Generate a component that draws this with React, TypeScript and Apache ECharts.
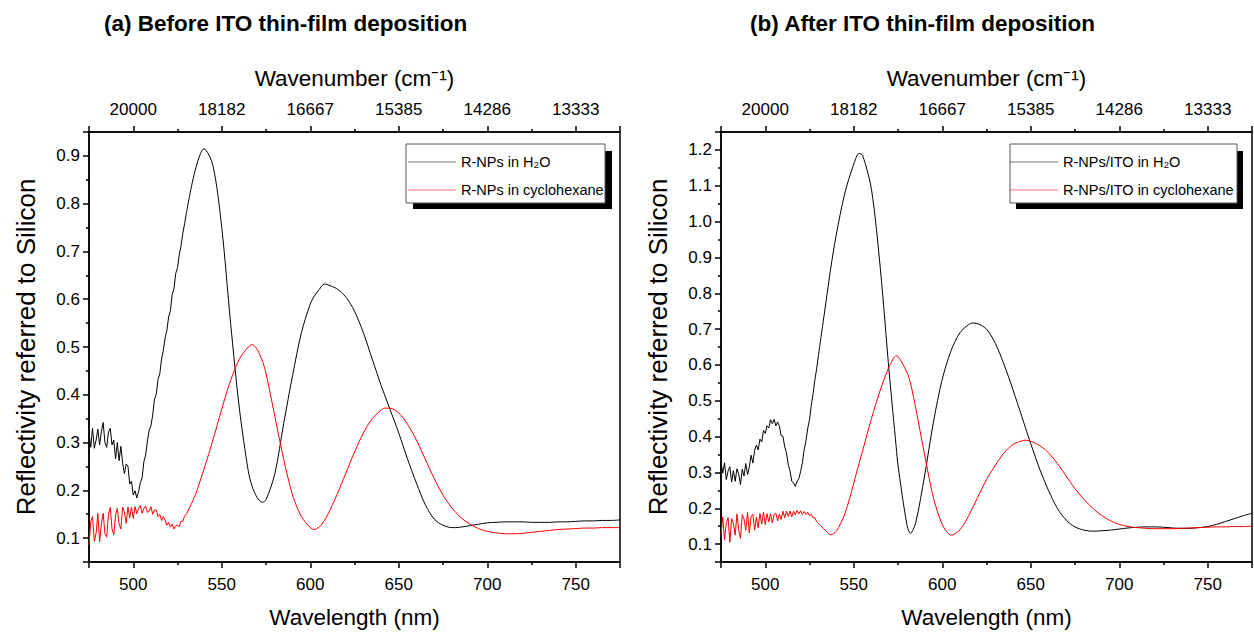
import React, { useEffect, useRef } from 'react';
import * as echarts from 'echarts';

const FONT = '"Liberation Sans", Arial, Helvetica, sans-serif';

const titles = ['(a) Before ITO thin-film deposition', '(b) After ITO thin-film deposition'];
const legendNamesA = ['R-NPs in H₂O', 'R-NPs in cyclohexane'];
const legendNamesB = ['R-NPs/ITO in H₂O', 'R-NPs/ITO in cyclohexane'];
const xAxisName = 'Wavelength (nm)';
const topAxisName = 'Wavenumber (cm⁻¹)';
const yAxisName = 'Reflectivity referred to Silicon';

const wlMin = 475;
const wlMax = 775;
const yRangeA = [0.05, 0.95];
const yRangeB = [0.05, 1.25];

// sampled wavelengths (nm): dense in the noisy short-wavelength part (first 56 points)
const wlNoisy = [475, 476, 477, 478, 479, 480, 481, 482, 483, 484, 485, 486, 487, 488, 489, 490, 491, 492, 493, 494, 495, 496, 497, 498, 499, 500,
  501, 502, 503, 504, 505, 506, 507, 508, 509, 510, 511, 512, 513, 514, 515, 516, 517, 518, 519, 520,
  521, 522, 523, 524, 525, 526, 527, 528, 529, 530];
const wlTailA = [535, 540, 545, 550, 555, 560, 565, 567, 570, 573, 575, 580, 585, 590, 595, 600, 602, 605, 608, 610,
  615, 620, 625, 630, 635, 640, 642, 645, 650, 655, 660, 665, 670, 675, 680, 682, 685, 690, 695,
  700, 705, 710, 715, 720, 725, 730, 735, 740, 745, 750, 755, 760, 765, 770, 775];
const wlTailB = [535, 537, 540, 545, 550, 553, 555, 560, 565, 570, 574, 575, 580, 582, 585, 590, 595, 600, 605, 610,
  615, 617, 620, 625, 630, 635, 640, 645, 647, 650, 655, 660, 665, 670, 675, 680, 685, 690, 695,
  700, 705, 710, 715, 720, 725, 730, 735, 740, 745, 750, 755, 760, 765, 770, 775];

// (a) R-NPs in H2O
const blackA = [0.32, 0.29, 0.33, 0.288, 0.305, 0.328, 0.295, 0.323, 0.342, 0.30, 0.29, 0.322, 0.33, 0.295, 0.305, 0.266, 0.30, 0.262, 0.292, 0.257, 0.235, 0.255, 0.251, 0.213, 0.219, 0.19,
  0.199, 0.184, 0.197, 0.216, 0.226, 0.26, 0.274, 0.303, 0.326, 0.335, 0.358, 0.391, 0.401, 0.432, 0.444, 0.475, 0.493, 0.519, 0.535, 0.563,
  0.576, 0.61, 0.622, 0.654, 0.666, 0.693, 0.712, 0.738, 0.758, 0.78,
  0.87, 0.915, 0.88, 0.75, 0.55, 0.37, 0.24, 0.21, 0.185, 0.175, 0.18, 0.235, 0.34, 0.44, 0.53, 0.59, 0.605, 0.62, 0.632, 0.63,
  0.622, 0.605, 0.575, 0.53, 0.475, 0.42, 0.40, 0.37, 0.32, 0.265, 0.215, 0.17, 0.14, 0.127, 0.122, 0.122, 0.123, 0.126, 0.129,
  0.132, 0.133, 0.134, 0.134, 0.134, 0.133, 0.133, 0.133, 0.134, 0.134, 0.135, 0.136, 0.136, 0.137, 0.137, 0.138];
// (a) R-NPs in cyclohexane
const redA = [0.085, 0.135, 0.145, 0.093, 0.11, 0.152, 0.092, 0.13, 0.152, 0.109, 0.102, 0.15, 0.164, 0.12, 0.107, 0.148, 0.162, 0.13, 0.119, 0.165, 0.155, 0.131, 0.165, 0.142, 0.165, 0.141,
  0.166, 0.151, 0.162, 0.168, 0.152, 0.162, 0.167, 0.154, 0.156, 0.166, 0.15, 0.159, 0.159, 0.145, 0.15, 0.137, 0.145, 0.138, 0.127, 0.133,
  0.123, 0.129, 0.119, 0.126, 0.127, 0.124, 0.135, 0.135, 0.146, 0.15,
  0.19, 0.245, 0.305, 0.37, 0.43, 0.475, 0.50, 0.505, 0.495, 0.47, 0.445, 0.355, 0.265, 0.19, 0.145, 0.122, 0.118, 0.123, 0.137, 0.15,
  0.19, 0.235, 0.28, 0.32, 0.35, 0.368, 0.372, 0.372, 0.362, 0.338, 0.305, 0.265, 0.225, 0.19, 0.163, 0.155, 0.143, 0.13, 0.12,
  0.114, 0.111, 0.109, 0.109, 0.11, 0.112, 0.114, 0.116, 0.118, 0.119, 0.12, 0.121, 0.121, 0.122, 0.122, 0.122];
// (b) R-NPs/ITO in H2O
const blackB = [0.328, 0.298, 0.327, 0.28, 0.304, 0.316, 0.273, 0.305, 0.275, 0.31, 0.296, 0.266, 0.309, 0.29, 0.325, 0.294, 0.316, 0.348, 0.326, 0.362, 0.376, 0.363, 0.393, 0.385, 0.417, 0.409,
  0.43, 0.424, 0.447, 0.436, 0.448, 0.43, 0.441, 0.429, 0.402, 0.401, 0.371, 0.355, 0.322, 0.304, 0.275, 0.271, 0.261, 0.275, 0.283, 0.303,
  0.327, 0.364, 0.388, 0.423, 0.447, 0.487, 0.518, 0.557, 0.588, 0.625,
  0.80, 0.87, 0.96, 1.08, 1.16, 1.19, 1.185, 1.09, 0.87, 0.58, 0.37, 0.32, 0.155, 0.13, 0.16, 0.29, 0.44, 0.56, 0.64, 0.69,
  0.713, 0.717, 0.715, 0.70, 0.66, 0.60, 0.53, 0.455, 0.425, 0.38, 0.31, 0.25, 0.20, 0.167, 0.148, 0.139, 0.136, 0.137, 0.139,
  0.142, 0.145, 0.147, 0.148, 0.148, 0.147, 0.145, 0.144, 0.144, 0.146, 0.149, 0.155, 0.163, 0.171, 0.179, 0.186];
// (b) R-NPs/ITO in cyclohexane
const redB = [0.125, 0.176, 0.112, 0.158, 0.174, 0.105, 0.171, 0.157, 0.125, 0.184, 0.14, 0.116, 0.182, 0.17, 0.139, 0.188, 0.131, 0.177, 0.183, 0.139, 0.175, 0.146, 0.185, 0.156, 0.189, 0.154,
  0.185, 0.162, 0.185, 0.159, 0.183, 0.186, 0.165, 0.184, 0.169, 0.192, 0.173, 0.192, 0.177, 0.192, 0.176, 0.192, 0.182, 0.194, 0.184, 0.193,
  0.183, 0.191, 0.183, 0.189, 0.179, 0.183, 0.173, 0.174, 0.163, 0.158,
  0.133, 0.126, 0.135, 0.185, 0.27, 0.325, 0.36, 0.45, 0.53, 0.595, 0.625, 0.624, 0.58, 0.55, 0.48, 0.35, 0.23, 0.155, 0.125, 0.14,
  0.18, 0.20, 0.23, 0.28, 0.32, 0.355, 0.378, 0.388, 0.39, 0.387, 0.375, 0.355, 0.325, 0.29, 0.255, 0.225, 0.20, 0.18, 0.165,
  0.155, 0.149, 0.146, 0.144, 0.143, 0.143, 0.143, 0.144, 0.145, 0.146, 0.147, 0.148, 0.148, 0.149, 0.149, 0.15];

const wavelengthA = [...wlNoisy, ...wlTailA];
const wavelengthB = [...wlNoisy, ...wlTailB];
const NOISY_COUNT = wlNoisy.length;

const BLACK = '#000000';
const RED = '#ff0000';

const GRIDS = [
  { left: 89, top: 132, width: 531, height: 430 },
  { left: 721, top: 132, width: 531, height: 430 },
];

const lineSt = { color: '#000', width: 1.5 };

function xAxisFor(gridIndex: number, top: boolean) {
  return {
    type: 'value',
    gridIndex,
    position: top ? 'top' : 'bottom',
    min: wlMin,
    max: wlMax,
    splitNumber: 6,
    minInterval: 50,
    maxInterval: 50,
    axisLine: { show: true, onZero: false, lineStyle: lineSt },
    axisTick: { show: true, inside: false, length: 6, lineStyle: lineSt },
    minorTick: { show: true, splitNumber: 2, length: 3, lineStyle: lineSt },
    splitLine: { show: false },
    minorSplitLine: { show: false },
    axisLabel: {
      show: true,
      showMinLabel: false,
      showMaxLabel: false,
      margin: 14,
      fontSize: 17,
      color: '#000',
      fontFamily: FONT,
      formatter: top ? (v: number) => String(Math.round(1e7 / v)) : (v: number) => String(v),
    },
    name: top ? topAxisName : xAxisName,
    nameLocation: 'middle',
    nameGap: top ? 42 : 44,
    nameTextStyle: { fontSize: 22.5, color: '#000', fontFamily: FONT },
  };
}

function yAxisFor(gridIndex: number, range: number[]) {
  return {
    type: 'value',
    gridIndex,
    position: 'left',
    min: range[0],
    max: range[1],
    splitNumber: Math.round((range[1] - range[0]) / 0.1),
    minInterval: 0.1,
    maxInterval: 0.1,
    axisLine: { show: true, onZero: false, lineStyle: lineSt },
    axisTick: { show: true, inside: false, length: 6, lineStyle: lineSt },
    minorTick: { show: true, splitNumber: 2, length: 3, lineStyle: lineSt },
    splitLine: { show: false },
    minorSplitLine: { show: false },
    axisLabel: {
      show: true,
      showMinLabel: false,
      showMaxLabel: false,
      margin: 9,
      fontSize: 17,
      color: '#000',
      fontFamily: FONT,
      formatter: (v: number) => v.toFixed(1),
    },
    name: yAxisName,
    nameLocation: 'middle',
    nameRotate: 90,
    nameGap: 50,
    nameTextStyle: { fontSize: 26, color: '#000', fontFamily: FONT },
  };
}

function lineParts(name: string, xs: number[], ys: number[], color: string, gridIndex: number) {
  const pts = xs.map((x, i) => [x, ys[i]]);
  const base = {
    type: 'line',
    name,
    xAxisIndex: gridIndex * 2,
    yAxisIndex: gridIndex,
    showSymbol: false,
    symbol: 'none',
    lineStyle: { color, width: 1 },
    itemStyle: { color },
    emphasis: { disabled: true },
    silent: true,
    z: 2,
  };
  return [
    { ...base, data: pts.slice(0, NOISY_COUNT), smooth: false },
    { ...base, data: pts.slice(NOISY_COUNT - 1), smooth: 0.3 },
  ];
}

function legendFor(names: string[], left: number) {
  return {
    data: names,
    orient: 'vertical',
    left,
    top: 154,
    padding: 0,
    itemWidth: 48,
    itemHeight: 1,
    itemGap: 12,
    icon: 'rect',
    selectedMode: false,
    z: 10,
    itemStyle: { opacity: 0.55 },
    textStyle: { fontSize: 14.5, lineHeight: 16, color: '#000', fontFamily: FONT },
  };
}

function buildOption() {
  return {
    animation: false,
    backgroundColor: '#ffffff',
    title: [
      { text: titles[0], left: 99, top: 7, textStyle: { fontSize: 22.5, fontWeight: 'bold', color: '#000', fontFamily: FONT } },
      { text: titles[1], left: 745, top: 7, textStyle: { fontSize: 22.5, fontWeight: 'bold', color: '#000', fontFamily: FONT } },
    ],
    grid: GRIDS.map((g) => ({ ...g, show: true, borderColor: '#000', borderWidth: 1.5, backgroundColor: 'transparent', containLabel: false })),
    xAxis: [xAxisFor(0, false), xAxisFor(0, true), xAxisFor(1, false), xAxisFor(1, true)],
    yAxis: [yAxisFor(0, yRangeA), yAxisFor(1, yRangeB)],
    legend: [legendFor(legendNamesA, 408), legendFor(legendNamesB, 1010)],
    graphic: [
      { type: 'rect', z: 5, shape: { x: 413, y: 151, width: 199, height: 58 }, style: { fill: '#000' } },
      { type: 'rect', z: 6, shape: { x: 406, y: 144, width: 199, height: 59 }, style: { fill: '#fff', stroke: '#555', lineWidth: 1 } },
      { type: 'rect', z: 5, shape: { x: 1016, y: 151, width: 227, height: 58 }, style: { fill: '#000' } },
      { type: 'rect', z: 6, shape: { x: 1010, y: 144, width: 227, height: 59 }, style: { fill: '#fff', stroke: '#555', lineWidth: 1 } },
    ],
    series: [
      ...lineParts(legendNamesA[0], wavelengthA, blackA, BLACK, 0),
      ...lineParts(legendNamesA[1], wavelengthA, redA, RED, 0),
      ...lineParts(legendNamesB[0], wavelengthB, blackB, BLACK, 1),
      ...lineParts(legendNamesB[1], wavelengthB, redB, RED, 1),
    ],
  };
}

export default function App() {
  const ref = useRef<HTMLDivElement>(null);
  useEffect(() => {
    if (!ref.current) return;
    const chart = echarts.init(ref.current, null, { renderer: 'svg' });
    chart.setOption(buildOption() as any);
    return () => chart.dispose();
  }, []);
  return (
    <div
      ref={ref}
      style={{ position: 'absolute', left: 0, top: 0, width: 1254, height: 635, background: '#fff' }}
    />
  );
}
